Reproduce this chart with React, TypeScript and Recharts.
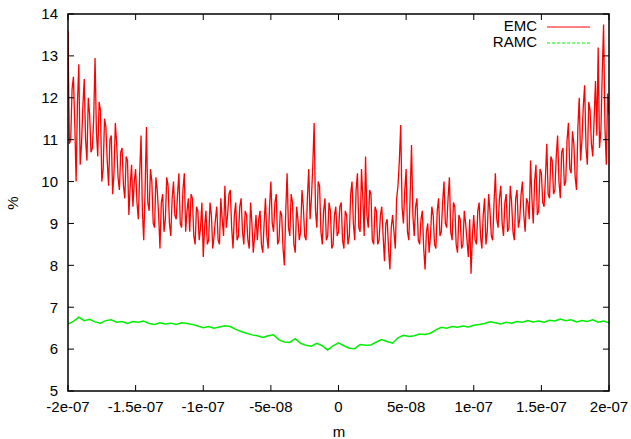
import { LineChart, Line, XAxis, YAxis } from "recharts";

// EMC samples, evenly spaced from -2e-7 to 2e-7 (401 points)
const emcValues = [
  13.6, 10.9, 11.0, 12.2, 12.5, 11.4, 10.0, 11.9, 12.8, 10.4, 10.9, 11.8, 12.45, 11.0, 10.5, 12.0, 11.6, 10.7, 10.8, 11.5,
  12.95, 11.2, 10.6, 11.9, 11.7, 10.0, 10.3, 11.5, 11.3, 10.5, 9.9, 11.0, 11.1, 9.7, 10.2, 11.4, 10.9, 10.1, 9.8, 10.7,
  10.8, 9.9, 9.6, 10.6, 10.5, 9.2, 9.9, 10.4, 9.4, 10.0, 10.3, 9.5, 9.1, 10.2, 11.1, 9.3, 8.6, 9.8, 11.3, 9.5,
  9.3, 10.3, 10.0, 9.0, 8.9, 10.1, 9.8, 9.2, 8.4, 9.5, 9.7, 8.8, 9.1, 10.1, 9.9, 9.0, 8.7, 9.6, 10.0, 9.2,
  9.1, 9.7, 10.2, 9.0, 8.9, 9.8, 10.2, 8.8, 9.3, 9.6, 8.8, 9.7, 9.6, 8.7, 8.5, 9.4, 9.3, 8.6, 8.9, 9.5,
  8.2, 8.9, 9.3, 8.5, 8.6, 9.5, 9.2, 8.4, 8.7, 9.1, 9.4, 8.6, 8.5, 9.6, 9.1, 8.7, 9.9, 8.9, 9.2, 9.7,
  9.8, 8.9, 8.4, 9.2, 9.5, 8.6, 8.7, 9.4, 9.6, 8.8, 8.5, 9.3, 9.2, 8.6, 8.4, 9.5, 9.0, 8.3, 8.7, 9.2,
  8.6, 9.1, 9.3, 8.5, 8.3, 9.0, 9.6, 8.7, 8.4, 9.4, 10.0, 9.0, 8.8, 9.5, 9.7, 8.5, 8.6, 9.3, 9.2, 8.4,
  8.0, 9.3, 10.2, 8.9, 8.7, 9.7, 9.5, 8.5, 8.3, 9.4, 9.1, 8.6, 8.8, 9.8, 9.4, 8.7, 8.6, 9.6, 10.3, 9.1,
  9.6, 10.4, 11.4, 9.3, 8.9, 10.0, 9.9, 8.8, 8.5, 9.3, 9.6, 8.6, 8.7, 9.5, 9.3, 8.4, 8.5, 9.2, 9.4, 8.7,
  8.8, 9.4, 9.5, 8.6, 8.4, 9.3, 9.2, 8.5, 8.7, 9.7, 10.0, 9.0, 8.6, 9.8, 10.2, 8.9, 8.8, 10.3, 9.6, 8.7,
  10.6, 9.2, 8.9, 9.8, 9.7, 8.6, 8.5, 9.4, 9.3, 8.5, 8.6, 9.2, 9.4, 8.7, 8.1, 9.0, 9.1, 8.4, 7.9, 8.9,
  9.2, 8.8, 8.4, 9.6, 9.9, 10.5, 11.35, 9.4, 9.0, 9.8, 10.3, 8.8, 8.6, 9.7, 10.87, 9.2, 8.7, 9.4, 9.6, 8.6,
  8.5, 9.1, 9.3, 8.4, 7.9, 8.8, 9.0, 8.3, 8.7, 9.4, 9.2, 8.5, 8.4, 9.3, 9.6, 8.7, 8.8, 9.5, 10.0, 9.0,
  8.9, 9.6, 10.1, 8.8, 8.6, 9.5, 9.4, 8.5, 8.3, 9.2, 9.1, 8.4, 8.5, 9.3, 9.0, 8.6, 8.2, 9.1, 7.8, 8.7,
  9.2, 8.6, 8.5, 9.3, 9.5, 8.7, 8.4, 9.2, 9.6, 8.5, 8.8, 9.7, 9.3, 8.7, 8.6, 9.5, 10.2, 9.1, 8.9, 9.6,
  9.9, 9.0, 8.7, 9.5, 9.7, 8.8, 8.9, 9.9, 9.5, 8.8, 8.6, 9.6, 9.8, 8.9, 9.1, 9.7, 10.0, 9.2, 8.8, 9.6,
  9.5, 9.1, 10.5, 9.6, 9.0, 10.0, 10.4, 9.2, 9.3, 10.3, 10.2, 9.5, 9.4, 10.1, 10.9, 9.7, 9.6, 10.6, 10.5, 9.7,
  9.8, 10.6, 11.1, 10.0, 9.6, 10.7, 10.8, 9.9, 10.0, 11.0, 11.4, 10.3, 10.2, 11.2, 10.9, 10.1, 9.8, 11.3, 12.0, 10.5,
  11.0, 11.8, 12.3, 10.8, 10.4, 11.9, 11.7, 10.9, 10.6, 11.5, 12.4, 11.1, 13.2, 10.8, 11.2, 12.6, 13.75, 11.3, 10.4, 12.1,
  11.6,
];

// RAMC samples, evenly spaced from -2e-7 to 2e-7 (101 points)
const ramcValues = [
  6.6, 6.66, 6.76, 6.68, 6.71, 6.65, 6.62, 6.68, 6.7, 6.64,
  6.66, 6.61, 6.66, 6.64, 6.67, 6.61, 6.59, 6.63, 6.6, 6.62,
  6.59, 6.63, 6.61, 6.59, 6.55, 6.51, 6.54, 6.5, 6.53, 6.56,
  6.54, 6.47, 6.42, 6.38, 6.34, 6.32, 6.28, 6.32, 6.34, 6.22,
  6.17, 6.16, 6.25, 6.14, 6.09, 6.07, 6.14, 6.08, 5.98, 6.08,
  6.15, 6.08, 6.02, 6.01, 6.11, 6.09, 6.1, 6.17, 6.23, 6.18,
  6.14, 6.27, 6.33, 6.3, 6.32, 6.36, 6.35, 6.38, 6.46, 6.52,
  6.5, 6.54, 6.52, 6.55, 6.53, 6.57, 6.59, 6.61, 6.65, 6.63,
  6.6, 6.64, 6.62, 6.66, 6.64, 6.68, 6.65, 6.67, 6.64, 6.69,
  6.67, 6.72, 6.68, 6.7, 6.65, 6.68, 6.66, 6.7, 6.64, 6.67,
  6.63,
];

const xMin = -2e-7;
const xMax = 2e-7;
const yMin = 5;
const yMax = 14;
const xTicks = [-2e-7, -1.5e-7, -1e-7, -5e-8, 0, 5e-8, 1e-7, 1.5e-7, 2e-7];
const xTickLabels = ["-2e-07", "-1.5e-07", "-1e-07", "-5e-08", "0", "5e-08", "1e-07", "1.5e-07", "2e-07"];
const yTicks = [5, 6, 7, 8, 9, 10, 11, 12, 13, 14];

const toPoints = (vals: number[]) =>
  vals.map((v, i) => ({ x: xMin + ((xMax - xMin) * i) / (vals.length - 1), v }));

const emcData = toPoints(emcValues);
const ramcData = toPoints(ramcValues);

const W = 631;
const H = 439;
const margin = { top: 14, right: 22, left: 29, bottom: 18 };
const yAxisW = 39;
const xAxisH = 30;
const plotL = margin.left + yAxisW;
const plotT = margin.top;
const plotW = W - plotL - margin.right;
const plotH = H - margin.top - margin.bottom - xAxisH;
const tickLen = 6;

// frame helpers (same linear mapping as the chart's plot box)
const px = (v: number) => plotL + ((v - xMin) / (xMax - xMin)) * plotW;
const py = (v: number) => plotT + plotH - ((v - yMin) / (yMax - yMin)) * plotH;

const font = "'Liberation Sans', Arial, sans-serif";
const tickStyle = { fill: "#000", fontSize: 15, fontFamily: font };

export default function App() {
  return (
    <div style={{ position: "absolute", left: 0, top: 0, width: W, height: H, background: "#fff", fontFamily: font }}>
      <LineChart width={W} height={H} margin={margin}>
        <XAxis
          type="number"
          dataKey="x"
          domain={[xMin, xMax]}
          allowDataOverflow
          ticks={xTicks}
          interval={0}
          tickFormatter={(v: number) => xTickLabels[xTicks.findIndex((t) => Math.abs(t - v) < 1e-12)] ?? ""}
          height={xAxisH}
          axisLine={false}
          tickLine={false}
          tickSize={0}
          tickMargin={10}
          tick={tickStyle}
        />
        <YAxis
          type="number"
          domain={[yMin, yMax]}
          allowDataOverflow
          ticks={yTicks}
          interval={0}
          width={yAxisW}
          axisLine={false}
          tickLine={false}
          tickSize={0}
          tickMargin={10}
          tick={tickStyle}
        />
        <Line
          data={emcData}
          dataKey="v"
          type="linear"
          stroke="#ff0000"
          strokeWidth={1.3}
          dot={false}
          isAnimationActive={false}
        />
        <Line
          data={ramcData}
          dataKey="v"
          type="linear"
          stroke="#00ee00"
          strokeWidth={1.5}
          dot={false}
          isAnimationActive={false}
        />
      </LineChart>
      {/* gnuplot-style border with inward ticks on all four sides */}
      <svg style={{ position: "absolute", left: 0, top: 0, pointerEvents: "none" }} width={W} height={H}>
        <rect x={plotL} y={plotT} width={plotW} height={plotH} fill="none" stroke="#000" strokeWidth={1.5} />
        {xTicks.map((t) => (
          <g key={"x" + t}>
            <line x1={px(t)} y1={plotT + plotH} x2={px(t)} y2={plotT + plotH - tickLen} stroke="#000" />
            <line x1={px(t)} y1={plotT} x2={px(t)} y2={plotT + tickLen} stroke="#000" />
          </g>
        ))}
        {yTicks.map((t) => (
          <g key={"y" + t}>
            <line x1={plotL} y1={py(t)} x2={plotL + tickLen} y2={py(t)} stroke="#000" />
            <line x1={plotL + plotW} y1={py(t)} x2={plotL + plotW - tickLen} y2={py(t)} stroke="#000" />
          </g>
        ))}
      </svg>
      <div style={{ position: "absolute", left: 12, top: 203, transform: "translate(-50%, -50%) rotate(-90deg)", fontSize: 15 }}>%</div>
      <div style={{ position: "absolute", left: 339, top: 431, transform: "translate(-50%, -50%)", fontSize: 15 }}>m</div>
      <div style={{ position: "absolute", right: 94, top: 18, textAlign: "right", fontSize: 15, lineHeight: "16px" }}>
        <div>EMC</div>
        <div>RAMC</div>
      </div>
      <svg style={{ position: "absolute", left: 546, top: 20 }} width={46} height={30}>
        <line x1={1} y1={7} x2={44} y2={7} stroke="#ff0000" strokeWidth={1} />
        <line x1={1} y1={23} x2={44} y2={23} stroke="#00ee00" strokeWidth={1} strokeDasharray="3 2" />
      </svg>
    </div>
  );
}
